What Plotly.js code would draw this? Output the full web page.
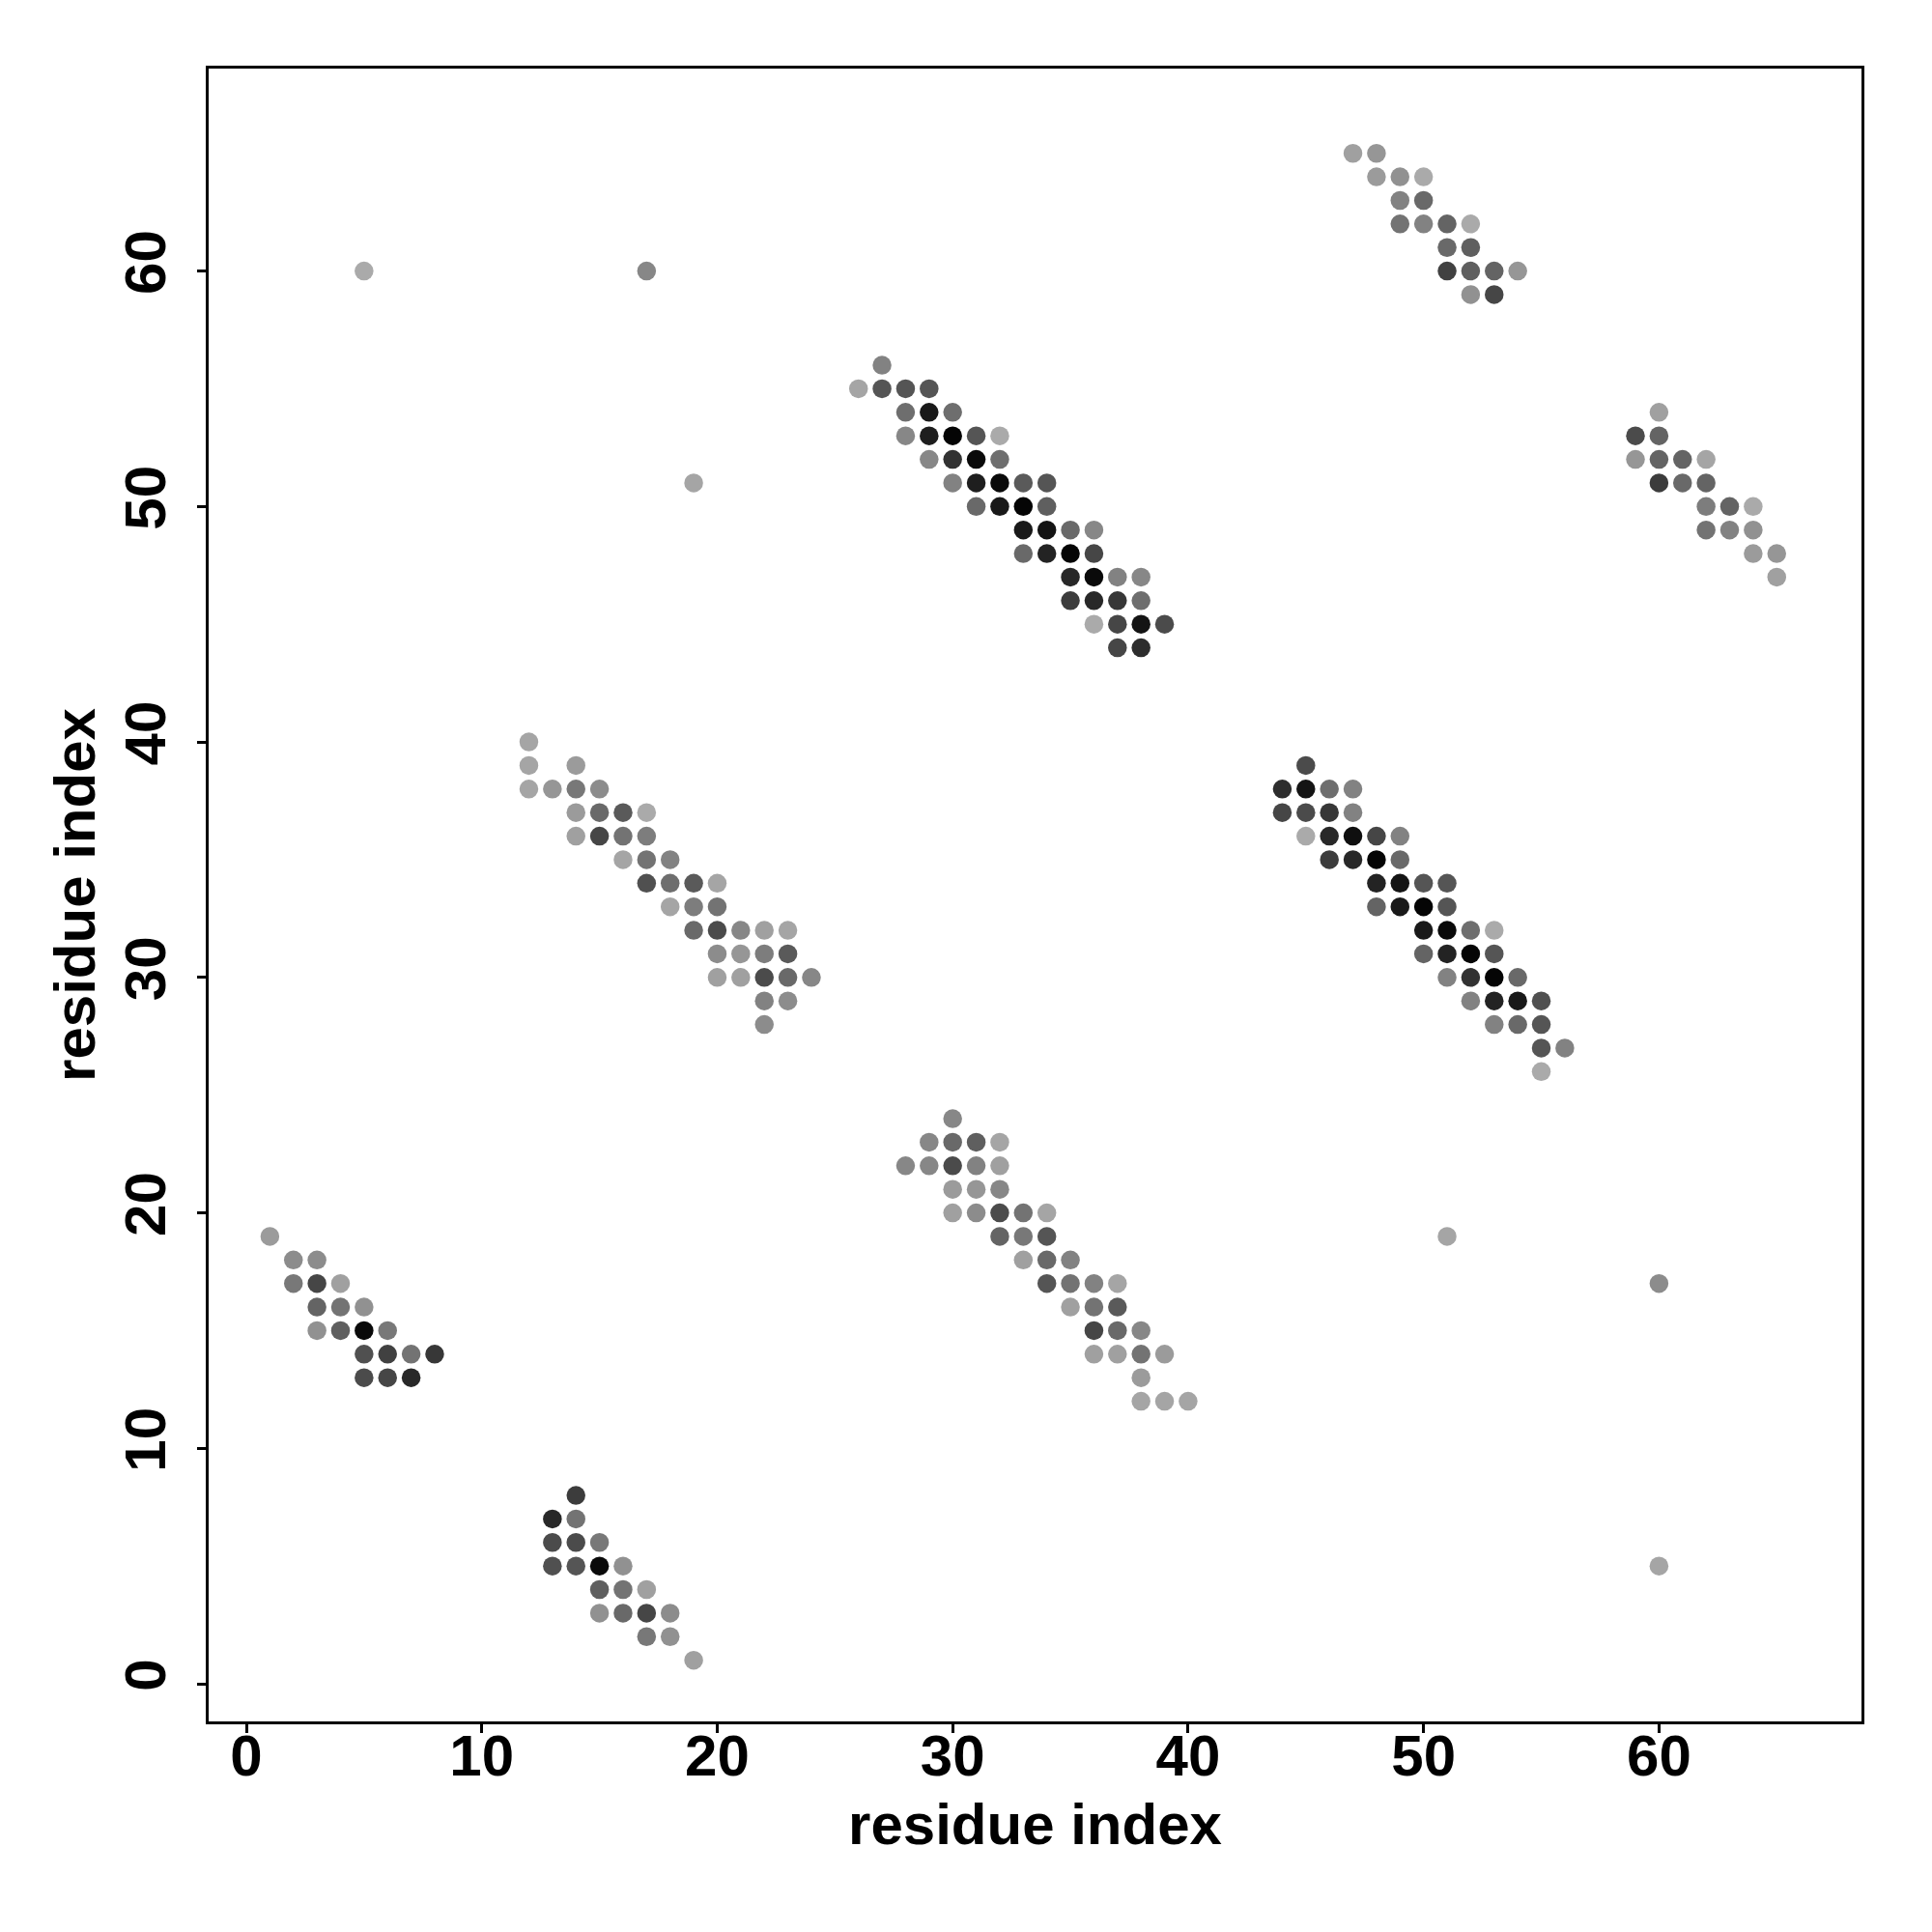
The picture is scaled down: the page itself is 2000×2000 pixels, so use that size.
<!DOCTYPE html>
<html>
<head>
<meta charset="utf-8">
<script src="https://cdn.plot.ly/plotly-3.0.1.min.js"></script>
<style>html,body{margin:0;padding:0;background:#fff;}#chart{width:2000px;height:2000px;}</style>
</head>
<body>
<div id="chart"></div>
<script>
// residue i (x), residue j (y), grey shade (0 = black, 255 = white)
const residueX = [
  1, 2,3, 2,3,4, 3,4,5, 3,4,5,6, 5,6,7,8, 5,6,7,
  14, 13,14, 13,14,15, 13,14,15,16, 15,16,17, 15,16,17,18, 17,18, 19,
  12, 12,14, 12,13,14,15, 14,15,16,17, 14,15,16,17, 16,17,18, 17,18,19,20, 18,19,20, 19,20,21,22,23, 20,21,22,23, 20,21,22,23,24, 22,23, 22,
  27, 26,27,28,29, 28,29,30, 28,29,30,31,32, 29,30,31,32, 30,31,32,33,34, 31,32,33,34, 33,34,35,36, 33,34,35,36, 35,36,37,38, 35,36,37,38, 36,37,38,39, 37,38,
  30, 29,30,31,32, 28,29,30,31,32, 30,31,32, 30,31,32,33,34, 32,33,34, 33,34,35, 34,35,36,37, 35,36,37, 36,37,38, 36,37,38,39, 38, 38,39,40,
  45, 44,45,46,47, 44,45,46,47, 45,46,47,48,49, 46,47,48,49, 48,49,50,51, 48,49,50,51, 50,51,52,53, 50,51,52,53, 51,52,53,54, 52,53,54,55, 53,54,55, 55,56, 55,
  47,48, 48,49,50, 49,50, 49,50,51,52, 51,52, 51,52,53,54, 52,53,
  60, 59,60, 59,60,61,62, 60,61,62, 62,63,64, 62,63,64, 64,65, 65,
  5, 17, 19, 51, 60, 60
];
const residueY = [
  19, 18,18, 17,17,17, 16,16,16, 15,15,15,15, 14,14,14,14, 13,13,13,
  8, 7,7, 6,6,6, 5,5,5,5, 4,4,4, 3,3,3,3, 2,2, 1,
  40, 39,39, 38,38,38,38, 37,37,37,37, 36,36,36,36, 35,35,35, 34,34,34,34, 33,33,33, 32,32,32,32,32, 31,31,31,31, 30,30,30,30,30, 29,29, 28,
  56, 55,55,55,55, 54,54,54, 53,53,53,53,53, 52,52,52,52, 51,51,51,51,51, 50,50,50,50, 49,49,49,49, 48,48,48,48, 47,47,47,47, 46,46,46,46, 45,45,45,45, 44,44,
  24, 23,23,23,23, 22,22,22,22,22, 21,21,21, 20,20,20,20,20, 19,19,19, 18,18,18, 17,17,17,17, 16,16,16, 15,15,15, 14,14,14,14, 13, 12,12,12,
  39, 38,38,38,38, 37,37,37,37, 36,36,36,36,36, 35,35,35,35, 34,34,34,34, 33,33,33,33, 32,32,32,32, 31,31,31,31, 30,30,30,30, 29,29,29,29, 28,28,28, 27,27, 26,
  65,65, 64,64,64, 63,63, 62,62,62,62, 61,61, 60,60,60,60, 59,59,
  54, 53,53, 52,52,52,52, 51,51,51, 50,50,50, 49,49,49, 48,48, 47,
  60, 60, 51, 19, 17, 5
];
const contactShade = [
  155, 140,140, 120,70,160, 100,115,145, 145,95,10,120, 80,65,115,55, 75,70,40,
  60, 40,115, 75,75,120, 80,85,10,145, 95,115,160, 145,105,70,140, 120,145, 160,
  165, 165,155, 165,150,120,140, 155,105,90,170, 160,70,115,125, 165,115,130, 80,110,90,165, 165,125,115, 105,75,135,160,165, 140,150,125,90, 160,160,75,105,135, 130,140, 140,
  130, 165,85,85,85, 110,25,110, 135,30,5,85,170, 135,50,10,110, 130,30,10,90,85, 105,25,5,95, 25,20,105,135, 105,35,5,70, 40,10,130,135, 60,40,55,110, 170,70,20,75, 70,45,
  135, 135,105,95,165, 135,135,75,130,160, 155,150,135, 160,140,75,115,165, 100,120,85, 160,105,130, 85,115,130,165, 160,115,90, 70,105,135, 160,160,115,155, 155, 165,165,165,
  75, 45,20,110,130, 70,75,55,130, 170,40,15,70,130, 60,40,5,105, 35,20,85,85, 100,25,5,85, 25,10,110,170, 100,35,5,85, 130,50,5,105, 130,35,25,80, 130,105,85, 85,130, 170,
  160,150, 155,145,170, 130,105, 115,130,100,170, 105,95, 65,95,100,150, 145,70,
  160, 75,100, 150,100,100,165, 60,105,100, 125,100,170, 115,130,145, 155,150, 160,
  170, 135, 165, 165, 140, 165
];
const tickValues = [0, 10, 20, 30, 40, 50, 60];
const axisTitle = 'residue index';

const fontFamily = '"Liberation Sans", Arial, Helvetica, sans-serif';

const trace = {
  type: 'scatter',
  mode: 'markers',
  x: residueX,
  y: residueY,
  marker: {
    size: 19.5,
    color: contactShade,
    cmin: 0,
    cmax: 255,
    colorscale: [[0, 'rgb(0,0,0)'], [1, 'rgb(255,255,255)']],
    showscale: false,
    line: {width: 0}
  },
  hoverinfo: 'x+y'
};

const axisCommon = {
  range: [-1.6, 68.6],
  tickvals: tickValues,
  ticktext: tickValues.map(String),
  ticks: 'outside',
  ticklen: 9,
  tickwidth: 3,
  tickcolor: '#000',
  showline: true,
  linewidth: 3,
  linecolor: '#000',
  mirror: true,
  showgrid: false,
  zeroline: false,
  tickfont: {family: fontFamily, size: 60, color: '#000', weight: 'bold'},
  automargin: false
};

const layout = {
  width: 2000,
  height: 2000,
  margin: {l: 216, r: 73, t: 71, b: 218},
  paper_bgcolor: '#fff',
  plot_bgcolor: '#fff',
  showlegend: false,
  font: {family: fontFamily, color: '#000'},
  xaxis: Object.assign({}, axisCommon, {
    ticklabelstandoff: -28,
    title: {text: axisTitle, font: {family: fontFamily, size: 60, color: '#000', weight: 'bold'}, standoff: 17}
  }),
  yaxis: Object.assign({}, axisCommon, {
    tickangle: -90,
    ticklabelstandoff: 9,
    title: {text: axisTitle, font: {family: fontFamily, size: 60, color: '#000', weight: 'bold'}, standoff: 0}
  })
};

Plotly.newPlot('chart', [trace], layout, {staticPlot: true, displayModeBar: false});
</script>
</body>
</html>
